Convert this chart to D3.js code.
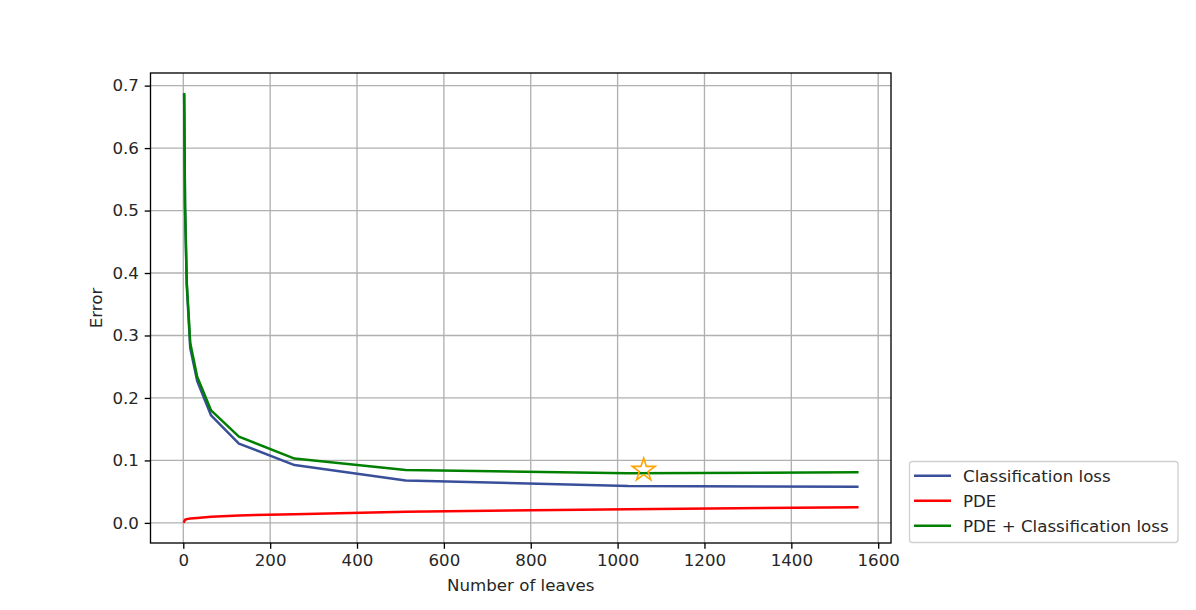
<!DOCTYPE html>
<html>
<head>
<meta charset="utf-8">
<script src="https://cdn.jsdelivr.net/npm/d3@7"></script>
<style>
  html, body { margin: 0; padding: 0; background: #fff; }
  svg text { font-family: "DejaVu Sans", sans-serif; fill: #262626; }
</style>
</head>
<body>
<svg id="chart" width="1196" height="610"></svg>
<script>
// ---- data ----
const leaves = [2, 4, 8, 16, 32, 64, 128, 256, 512, 1024, 1552];
const classificationLoss = [0.684, 0.505, 0.380, 0.280, 0.227, 0.172, 0.127, 0.0925, 0.068, 0.059, 0.058];
const pde = [0.002, 0.005, 0.006, 0.007, 0.008, 0.010, 0.012, 0.014, 0.018, 0.022, 0.025];
const pdePlusClassification = [0.686, 0.510, 0.385, 0.288, 0.234, 0.180, 0.138, 0.103, 0.0845, 0.0795, 0.081];
const bestPoint = [1060, 0.0845];
const xTicks = [0, 200, 400, 600, 800, 1000, 1200, 1400, 1600];
const yTicks = [0.0, 0.1, 0.2, 0.3, 0.4, 0.5, 0.6, 0.7];
const seriesNames = ["Classification loss", "PDE", "PDE + Classification loss"];
const seriesColors = ["#3a4f9a", "#ff0000", "#008000"];
const xLabel = "Number of leaves";
const yLabel = "Error";

// ---- layout ----
const FS = 16.67;
const plot = { left: 150.5, right: 891, top: 73, bottom: 543 };
const svg = d3.select("#chart");

const x = d3.scaleLinear().domain([-75.5, 1629.5]).range([plot.left, plot.right]);
const y = d3.scaleLinear().domain([-0.0322, 0.7202]).range([plot.bottom, plot.top]);

// grid
const grid = svg.append("g");
grid.selectAll("line.vx").data(xTicks).enter().append("line")
  .attr("x1", d => x(d)).attr("x2", d => x(d))
  .attr("y1", plot.top).attr("y2", plot.bottom)
  .attr("stroke", "#b0b0b0").attr("stroke-width", 1.33);
grid.selectAll("line.hy").data(yTicks).enter().append("line")
  .attr("y1", d => y(d)).attr("y2", d => y(d))
  .attr("x1", plot.left).attr("x2", plot.right)
  .attr("stroke", "#b0b0b0").attr("stroke-width", 1.33);

// axes
const xAxis = d3.axisBottom(x).tickValues(xTicks).tickSize(5.8).tickPadding(5.8).tickFormat(d3.format("d"));
const yAxis = d3.axisLeft(y).tickValues(yTicks).tickSize(5.8).tickPadding(5.8).tickFormat(d3.format(".1f"));

const gx = svg.append("g").attr("transform", `translate(0,${plot.bottom})`).call(xAxis);
const gy = svg.append("g").attr("transform", `translate(${plot.left},0)`).call(yAxis);
[gx, gy].forEach(g => {
  g.select(".domain").remove();
  g.selectAll(".tick line").attr("stroke", "#000").attr("stroke-width", 1.33);
  g.selectAll(".tick text").attr("font-size", FS).attr("fill", "#262626")
    .attr("font-family", "DejaVu Sans, sans-serif");
});

// lines
const seriesData = [classificationLoss, pde, pdePlusClassification];
const line = d3.line().x(d => x(d[0])).y(d => y(d[1]));
seriesData.forEach((vals, i) => {
  svg.append("path")
    .datum(leaves.map((l, j) => [l, vals[j]]))
    .attr("d", line)
    .attr("fill", "none")
    .attr("stroke", seriesColors[i])
    .attr("stroke-width", 2.5)
    .attr("stroke-linejoin", "round")
    .attr("stroke-linecap", "square");
});

// star marker
const cx = x(bestPoint[0]), cy = y(bestPoint[1]);
const Ro = 12, Ri = Ro * 0.381966;
const pts = [];
for (let k = 0; k < 10; k++) {
  const r = k % 2 === 0 ? Ro : Ri;
  const a = -Math.PI / 2 + k * Math.PI / 5;
  pts.push([cx + r * Math.cos(a), cy + r * Math.sin(a)]);
}
svg.append("path")
  .attr("d", "M" + pts.map(p => p.join(",")).join("L") + "Z")
  .attr("fill", "none").attr("stroke", "#ffa500").attr("stroke-width", 1.67)
  .attr("stroke-linejoin", "miter");

// frame
svg.append("rect")
  .attr("x", plot.left).attr("y", plot.top)
  .attr("width", plot.right - plot.left).attr("height", plot.bottom - plot.top)
  .attr("fill", "none").attr("stroke", "#000").attr("stroke-width", 1.33);

// axis labels
svg.append("text").attr("x", (plot.left + plot.right) / 2).attr("y", 591)
  .attr("text-anchor", "middle").attr("font-size", FS).text(xLabel);
svg.append("text").attr("transform", `translate(102,${(plot.top + plot.bottom) / 2}) rotate(-90)`)
  .attr("text-anchor", "middle").attr("font-size", FS).text(yLabel);

// legend
const lg = svg.append("g");
lg.append("rect").attr("x", 909.5).attr("y", 461.5).attr("width", 268.5).attr("height", 81)
  .attr("rx", 3).attr("fill", "#fff").attr("fill-opacity", 0.8)
  .attr("stroke", "#d0d0d0").attr("stroke-width", 1.33);
seriesNames.forEach((name, i) => {
  const ry = 475.7 + i * 25;
  lg.append("line").attr("x1", 914).attr("x2", 951).attr("y1", ry).attr("y2", ry)
    .attr("stroke", seriesColors[i]).attr("stroke-width", 2.5);
  lg.append("text").attr("x", 963).attr("y", ry).attr("dy", "0.36em")
    .attr("font-size", FS).text(name);
});
</script>
</body>
</html>
